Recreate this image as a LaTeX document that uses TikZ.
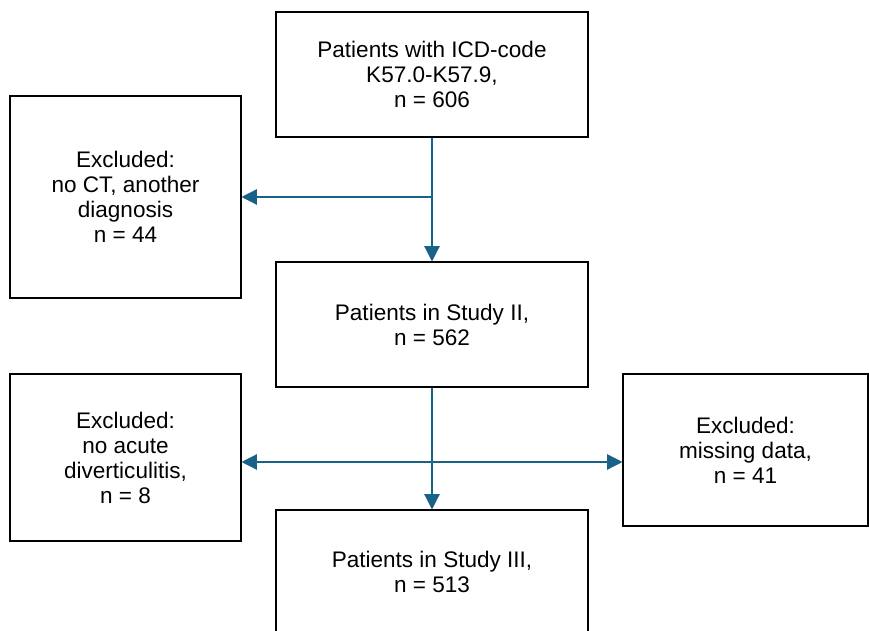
\documentclass[tikz,border=0pt]{standalone}
\usepackage{fontspec}
\setmainfont{Liberation Sans}
\usetikzlibrary{arrows.meta}
\definecolor{flowcol}{RGB}{24,98,136}
\tikzset{>={Triangle[length=11.5pt,width=11.5pt]}}
\tikzset{box/.style = {shape=rectangle,draw,line width=0.8pt,align=center,inner sep=0pt,
    font=\fontsize{16.9}{18.75}\selectfont}}
\tikzset{flow/.style = {draw=flowcol,line width=1pt}}

\begin{document}
\begin{tikzpicture}[x=0.75pt,y=-0.75pt]
                \useasboundingbox (0,0) rectangle (869,631);
                \node[box,minimum width=234pt,minimum height=93.75pt] (icd) at (432,74.5) {Patients with ICD-code\\K57.0-K57.9,\\n = 606};
                \node[box,minimum width=173.25pt,minimum height=151.5pt] (exclct) at (125.5,197) {Excluded:\\no CT, another\\diagnosis\\n = 44};
                \node[box,minimum width=234pt,minimum height=93.75pt] (studyii) at (432,324.5) {Patients in Study II,\\n = 562};
                \node[box,minimum width=173.25pt,minimum height=125.25pt] (exclacute) at (125.5,457.5) {Excluded:\\no acute\\diverticulitis,\\n = 8};
                \node[box,minimum width=183.75pt,minimum height=114pt] (exclmiss) at (745.5,450) {Excluded:\\missing data,\\n = 41};
                \node[box,minimum width=234pt,minimum height=93pt] (studyiii) at (432,572) {Patients in Study III,\\n = 513};

                \coordinate (split1) at (432,197);
                \coordinate (split2) at (432,462);

                \draw[flow,->] (icd) -- (studyii);
                \draw[flow,->] (split1) -- (exclct.east |- split1);
                \draw[flow,->] (studyii) -- (studyiii);
                \draw[flow,<->] (exclacute.east |- split2) -- (exclmiss.west |- split2);
            \end{tikzpicture}
\end{document}
